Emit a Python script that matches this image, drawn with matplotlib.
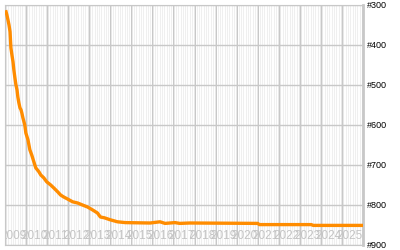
import numpy as np
import matplotlib
matplotlib.use("Agg")
import matplotlib.pyplot as plt

# rank over time (decimal years)
t = [2009.05, 2009.09, 2009.14, 2009.19, 2009.24, 2009.26, 2009.28, 2009.33,
     2009.38, 2009.42, 2009.47, 2009.52, 2009.57, 2009.61, 2009.66, 2009.71,
     2009.76, 2009.80, 2009.85, 2009.94, 2009.99, 2010.09, 2010.18, 2010.27,
     2010.37, 2010.46, 2010.61, 2010.70, 2010.84, 2010.98, 2011.17, 2011.31,
     2011.50, 2011.64, 2011.79, 2011.97, 2012.21, 2012.45, 2012.68, 2012.92,
     2013.15, 2013.39, 2013.53, 2013.72, 2014.00, 2014.34, 2014.71, 2015.89,
     2016.36, 2016.60, 2017.07, 2017.30, 2017.78, 2021.00, 2021.08, 2023.54,
     2023.64, 2025.95]
rank = [317, 325, 337, 350, 367, 387, 407, 425,
        442, 462, 482, 500, 512, 530, 545, 557,
        562, 570, 582, 600, 620, 637, 662, 675,
        692, 707, 717, 725, 732, 742, 750, 757,
        767, 775, 780, 785, 792, 795, 800, 805,
        812, 820, 830, 832, 837, 842, 844, 845,
        842, 846, 844, 846, 845, 846, 849, 849,
        851, 851]

years = list(range(2009, 2026))
rank_ticks = [300, 400, 500, 600, 700, 800, 900]
rank_labels = ["#300", "#400", "#500", "#600", "#700", "#800", "#900"]

fig = plt.figure(figsize=(4, 2.5), dpi=100)
ax = fig.add_axes([5 / 400, 5 / 250, 358 / 400, 240 / 250])
ax.set_facecolor("#efefef")

ax.plot(t, rank, color="#ff8c00", linewidth=2.4, zorder=3)

ax.set_xlim(2009, 2026)
ax.set_ylim(900, 300)

# year lines gray, month lines white
ax.set_xticks(range(2009, 2027))
ax.set_xticks(np.arange(2009, 2026, 1 / 12), minor=True)
ax.set_xticklabels([])
ax.grid(True, which="major", color="#c8c8c8", linewidth=1.0)
ax.grid(True, which="minor", axis="x", color="#ffffff", linewidth=0.7)
ax.tick_params(axis="x", which="both", length=0)

ax.yaxis.tick_right()
ax.set_yticks(rank_ticks)
ax.set_yticklabels(rank_labels, fontsize=6.5, family="Liberation Sans")
ax.tick_params(axis="y", length=0, pad=3)

for s in ax.spines.values():
    s.set_color("#c8c8c8")
ax.spines["right"].set_linewidth(2)

# year labels sit inside the plot, light gray and overlapping
for y in years:
    ax.text(y - 0.24, 877, str(y), fontsize=8.5, family="Liberation Sans",
            color="#c4c4c4", ha="left", va="center", clip_on=True, zorder=2)

fig.savefig("out.png", dpi=100)
